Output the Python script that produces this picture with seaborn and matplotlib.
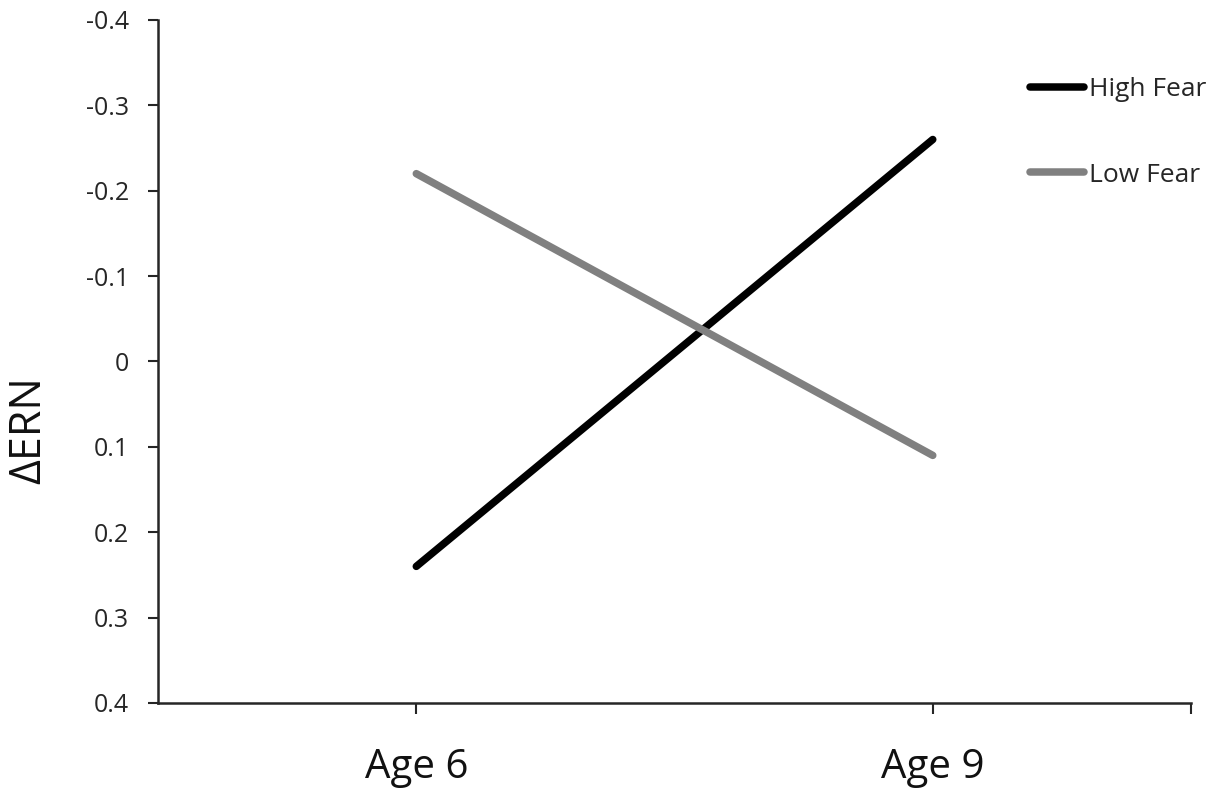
import matplotlib
matplotlib.use("Agg")
import matplotlib.pyplot as plt
import seaborn as sns
import pandas as pd

ages = ["Age 6", "Age 9"]
high_fear = [0.24, -0.26]
low_fear = [-0.22, 0.11]
groups = ["High Fear", "Low Fear"]
y_ticks = [-0.4, -0.3, -0.2, -0.1, 0.0, 0.1, 0.2, 0.3, 0.4]
y_tick_labels = ["-0.4", "-0.3", "-0.2", "-0.1", "0", "0.1", "0.2", "0.3", "0.4"]

df = pd.DataFrame({
    "age": ages * 2,
    "ern": high_fear + low_fear,
    "group": [groups[0]] * 2 + [groups[1]] * 2,
})

sns.set_theme(style="ticks")
plt.rcParams["font.family"] = ["Open Sans", "DejaVu Sans"]

fig = plt.figure(figsize=(12.3, 7.89), dpi=100)
ax = fig.add_axes([0.1285, 0.109, 0.9683 - 0.1285, 0.9747 - 0.109])

sns.lineplot(data=df, x="age", y="ern", hue="group",
             palette={"High Fear": "#000000", "Low Fear": "#808080"},
             linewidth=5.4, ax=ax, sort=False, legend=True)

ax.set_xlim(-0.5, 1.5)
ax.set_ylim(0.4, -0.4)
ax.set_yticks(y_ticks)
ax.set_yticklabels(y_tick_labels, fontsize=18, color="#262626")
ax.set_xticks([0, 1, 1.5])
ax.set_xticklabels(ages + [""], fontsize=29, color="#111111")
ax.tick_params(axis="y", length=7, width=1.5, pad=14, color="#262626")
ax.tick_params(axis="x", length=8, width=1.5, pad=24, color="#262626")

for s in ["top", "right"]:
    ax.spines[s].set_visible(False)
for s in ["left", "bottom"]:
    ax.spines[s].set_linewidth(1.8)
    ax.spines[s].set_color("#262626")

ax.set_xlabel("")
ax.set_ylabel("ΔERN", fontsize=31, color="#111111")
ax.yaxis.set_label_coords(-0.103, 0.40)

leg = ax.legend(loc="upper left", bbox_to_anchor=(0.8374, 0.9024),
                bbox_transform=fig.transFigure, frameon=False,
                fontsize=19, handlelength=2.05, handletextpad=0.2,
                labelspacing=2.3, borderpad=0, borderaxespad=0)
for line in leg.get_lines():
    line.set_linewidth(5.4)
    line.set_solid_capstyle("round")
for t in leg.get_texts():
    t.set_color("#262626")

fig.savefig("out.png", dpi=100)
